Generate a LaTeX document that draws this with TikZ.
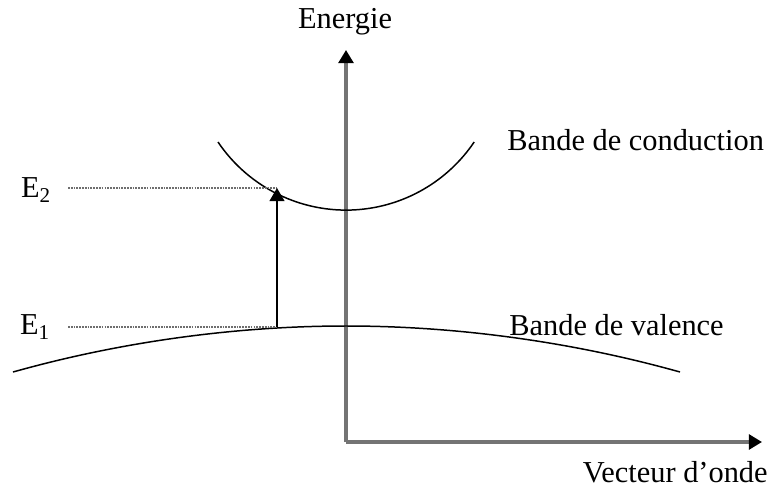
\documentclass[tikz,border=0pt]{standalone}
\usepackage{fontspec}
\setmainfont{Liberation Serif}
\usetikzlibrary{arrows.meta,positioning}
\definecolor{axisgray}{HTML}{747474}
\definecolor{dotgray}{HTML}{6E6E6E}
\tikzset{axisline/.style={draw=axisgray,line width=1.8pt,-{Triangle[length=7.5pt,width=8.5pt,color=black]}},bandcurve/.style={draw=black,line width=.85pt},levelline/.style={draw=dotgray,line width=1.3pt,dash pattern=on 1pt off .6pt},jumparrow/.style={draw=black,line width=.9pt,-{Triangle[length=7.5pt,width=8.5pt]}},figlabel/.style={font=\fontsize{17.3}{20}\selectfont,inner sep=0pt}}
\begin{document}
\begin{tikzpicture}[x=.02cm,y=-.02cm]
\useasboundingbox (0,0) rectangle (769,497);
% axes
\coordinate (O) at (346,442);
\coordinate (ytip) at (346,50);
\coordinate (xtip) at (762,442);
\draw[axisline] (O)--(ytip);
\draw[axisline] (O)--(xtip);
\node[figlabel] (lblE) at (345,22) {Energie};
\node[figlabel,anchor=east] (lblk) at (768,472) {Vecteur d'onde};
% bands
\coordinate (cl) at (218,142);
\coordinate (vl) at (13,372);
\coordinate (vt) at (346,326);
\coordinate (vr) at (680,372);
\draw[bandcurve] (cl) arc[start angle=146,end angle=34,radius=154.5];
\draw[bandcurve] (vl) parabola bend (vt) (vr);
\node[figlabel,anchor=west] (lblC) at (507,140) {Bande de conduction};
\node[figlabel,anchor=west] (lblV) at (509,325) {Bande de valence};
% levels
\node[figlabel] (E2) at (36,190) {E\textsubscript{\large 2}};
\node[figlabel] (E1) at (35,327) {E\textsubscript{\large 1}};
\coordinate (l2) at (68,188);
\coordinate (l1) at (68,327);
\coordinate (p2) at (277,188);
\coordinate (p1) at (277,327);
\draw[levelline] (l2)--(p2);
\draw[levelline] (l1)--(p1);
\draw[jumparrow] (p1)--(p2);
\end{tikzpicture}
\end{document}
